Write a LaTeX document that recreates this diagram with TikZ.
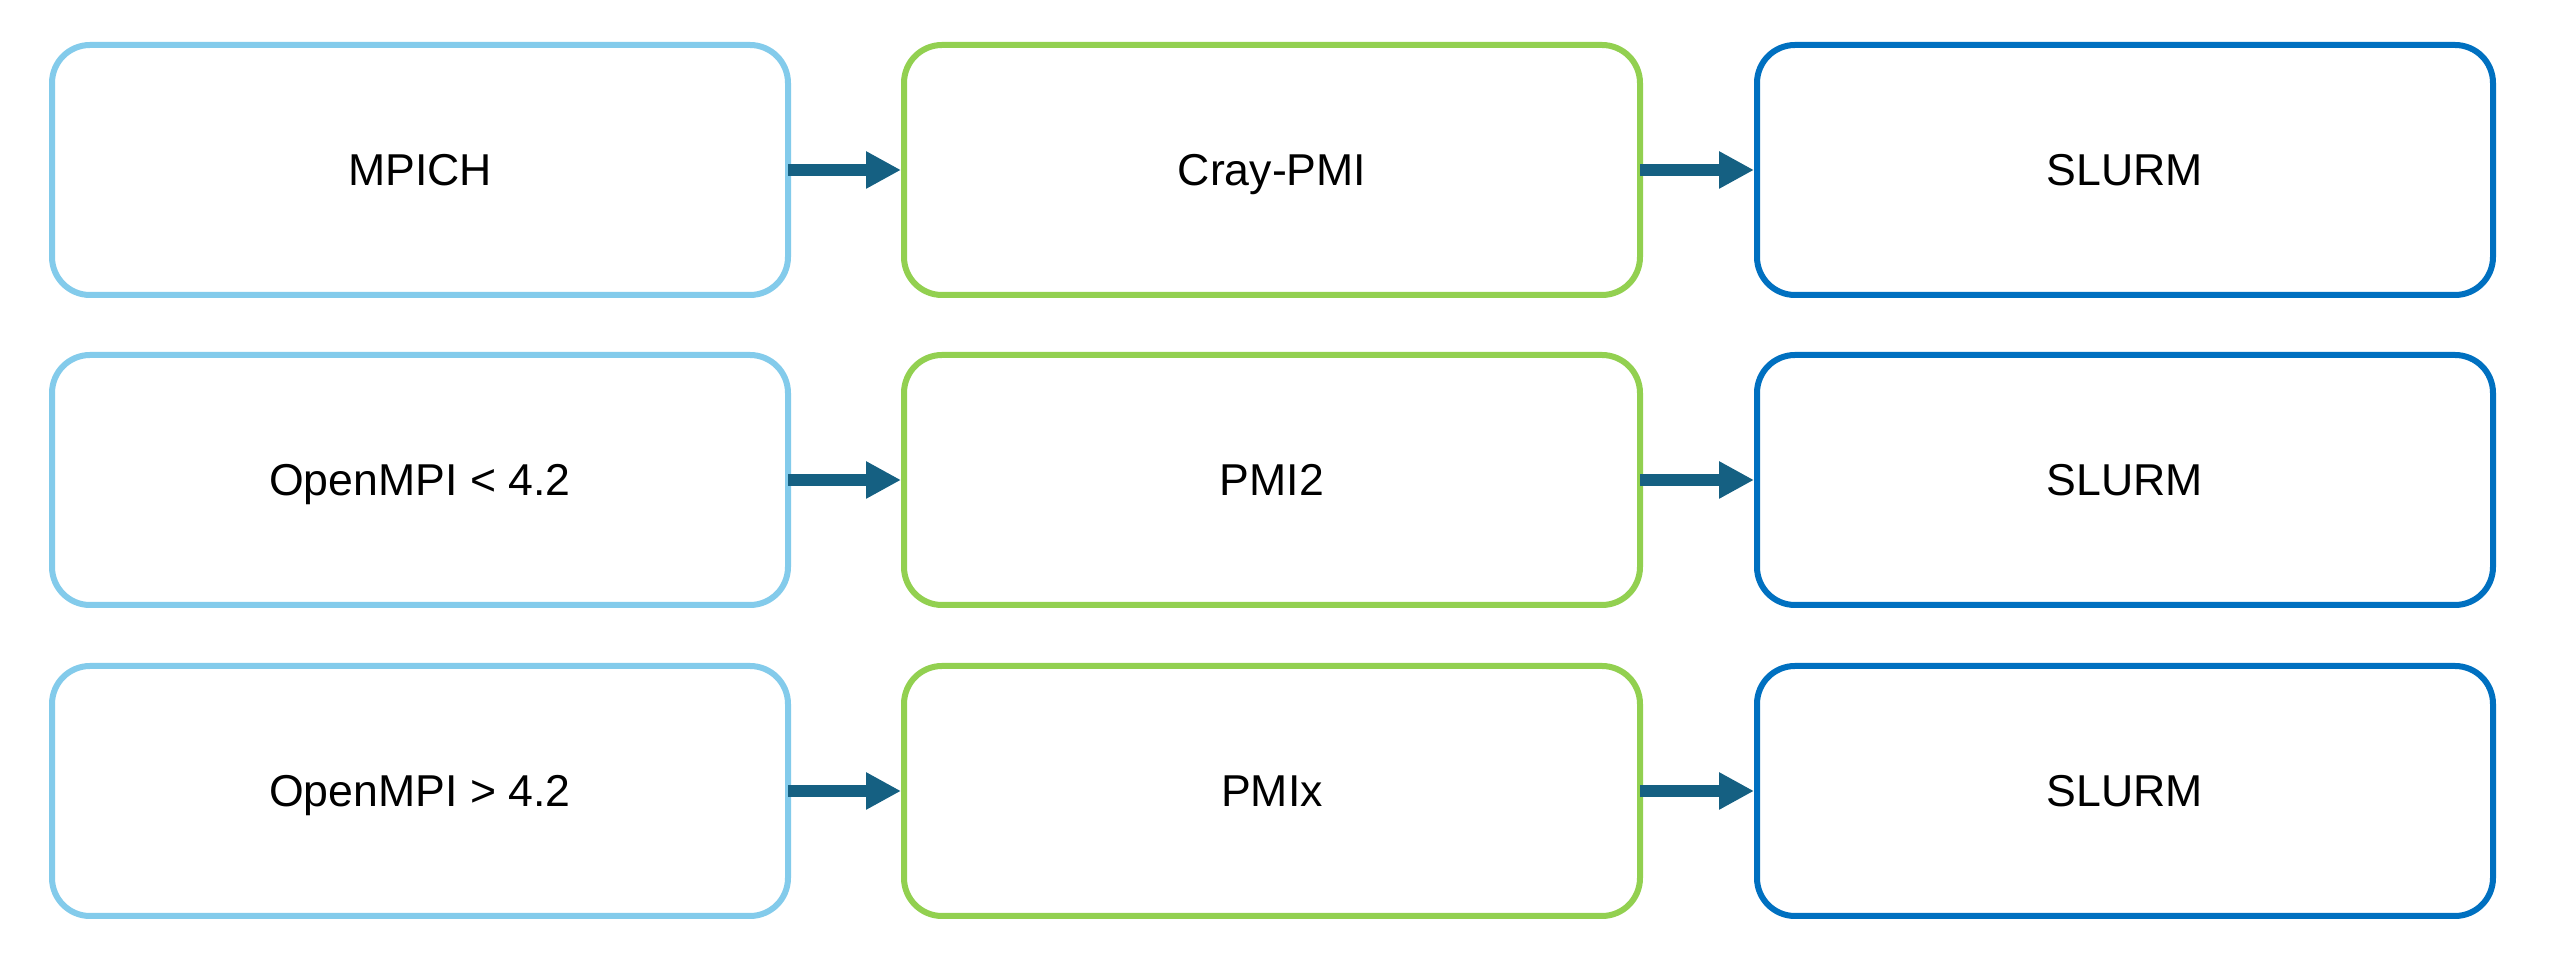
\documentclass[tikz,border=0pt]{standalone}
\usepackage{fontspec}
\setmainfont{Liberation Sans}
\usepackage{tikz}
\usetikzlibrary{arrows.meta}
\usetikzlibrary{positioning}

\definecolor{mpiblue}{HTML}{83CBEB}
\definecolor{pmigreen}{HTML}{92D050}
\definecolor{rmblue}{HTML}{0070C0}
\definecolor{arrteal}{HTML}{156082}

\begin{document}
\begin{tikzpicture}[
            x=0.1mm,
            y=0.1mm,
            box/.style={
                rectangle,
                rounded corners=3.8mm,
                draw,
                fill=white,
                line width=0.6mm,
                minimum width=73.6mm,
                minimum height=25mm,
                inner sep=0pt,
                text height=3.2mm,
                text depth=0pt,
                font=\fontsize{12.7}{15}\selectfont
            },
            lib/.style={box, draw=mpiblue},
            pmi/.style={box, draw=pmigreen},
            rm/.style={box, draw=rmblue},
            flow/.style={
                draw=arrteal,
                line width=1.2mm,
                -{Triangle[length=3.5mm,width=3.5mm]},
                shorten <=-0.3mm
            }
        ]

            \useasboundingbox (0,0) rectangle (2551,978);

            % MPI libraries
            \node[lib] (mpich) at (420,808) {MPICH};
            \node[lib] (ompiold) at (420,498) {OpenMPI < 4.2};
            \node[lib] (ompinew) at (420,187) {OpenMPI > 4.2};

            % PMI interfaces
            \node[pmi] (craypmi) at (1272,808) {Cray-PMI};
            \node[pmi] (pmitwo) at (1272,498) {PMI2};
            \node[pmi] (pmix) at (1272,187) {PMIx};

            % Resource manager
            \node[rm] (slurma) at (2125,808) {SLURM};
            \node[rm] (slurmb) at (2125,498) {SLURM};
            \node[rm] (slurmc) at (2125,187) {SLURM};

            % Arrows
            \draw[flow] (mpich) -- (craypmi);
            \draw[flow] (craypmi) -- (slurma);
            \draw[flow] (ompiold) -- (pmitwo);
            \draw[flow] (pmitwo) -- (slurmb);
            \draw[flow] (ompinew) -- (pmix);
            \draw[flow] (pmix) -- (slurmc);

        \end{tikzpicture}
\end{document}
